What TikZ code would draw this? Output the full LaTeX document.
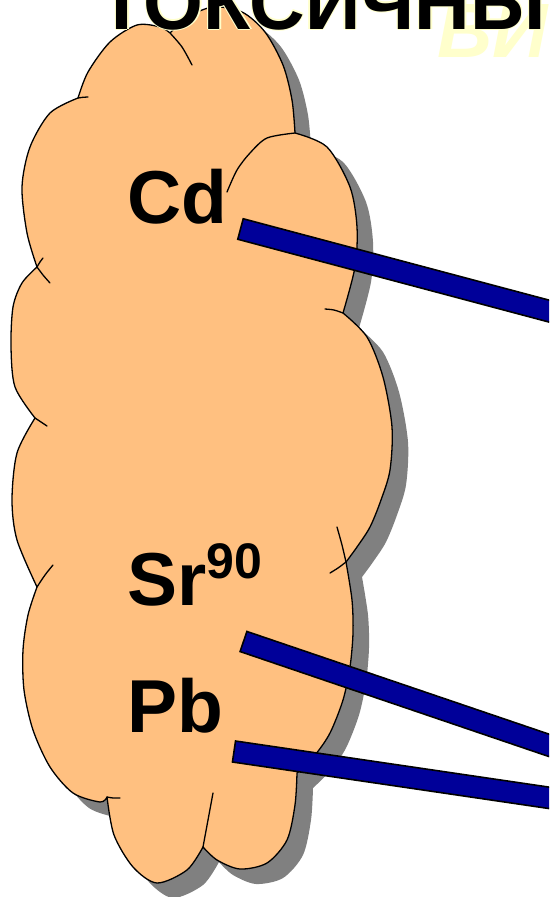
\documentclass[tikz,border=0pt]{standalone}
\usepackage{fontspec}
\setmainfont{Liberation Sans}
\usetikzlibrary{calc}
\definecolor{peach}{RGB}{255,192,128}
\definecolor{shadowgray}{RGB}{128,128,128}
\definecolor{barblue}{RGB}{0,0,153}
\definecolor{paleyel}{RGB}{255,255,204}
\def\cloudpath{plot[smooth] coordinates {(78,98) (88,72) (110,42) (137,25) (160,27) (170,33)}
 -- plot[smooth] coordinates {(170,33) (188,17) (213,7) (242,12) (265,32) (283,65) (292,100) (295,133)}
 -- plot[smooth] coordinates {(295,133) (327,147) (350,187) (357,227) (355,267) (343,313)}
 -- plot[smooth] coordinates {(343,313) (367,337) (383,377) (392,427) (390,470) (381,500) (370,527) (357,547) (346,562)}
 -- plot[smooth] coordinates {(346,562) (352,600) (353,633) (350,667) (343,700) (330,733) (315,755) (297,773)}
 -- plot[smooth] coordinates {(297,773) (295,805) (287,840) (267,863) (240,869) (217,860) (203,847)}
 -- plot[smooth] coordinates {(203,847) (187,870) (157,883) (133,867) (114,835) (107,797)}
 -- plot[smooth] coordinates {(107,797) (100,802) (73,793) (50,767) (33,730) (24,690) (23,650) (28,615) (37,587)}
 -- plot[smooth] coordinates {(37,587) (17,540) (12,500) (17,453) (35,418)}
 -- plot[smooth] coordinates {(35,418) (15,387) (11,347) (13,307) (22,283) (37,267)}
 -- plot[smooth] coordinates {(37,267) (27,233) (22,187) (30,147) (50,113) (78,98)} -- cycle}
\tikzset{
  cloudline/.style={draw=black, line width=1.3pt, line join=round, line cap=round},
  lab/.style={anchor=base west, inner sep=0pt, text=black, font=\fontsize{75}{75}\selectfont\bfseries},
  title/.style={anchor=base west, inner sep=0pt, font=\fontsize{77}{77}\selectfont\bfseries},
  bar/.style={fill=barblue, draw=black, line width=1.6pt, line join=miter}
}
\begin{document}
\begin{tikzpicture}[x=1pt,y=-1pt]
\path[use as bounding box] (0,0) rectangle (549,897);
\clip (0,0) rectangle (549,897);
\fill[white] (0,0) rectangle (549,897);
% shadow
\fill[fill=shadowgray, shift={(16,15)}] \cloudpath;
% cloud
\fill[fill=peach] \cloudpath;
\draw[cloudline] \cloudpath;
% inner strokes
\draw[cloudline] plot[smooth] coordinates {(78,98) (83,97.3) (88,97)};
\draw[cloudline] plot[smooth] coordinates {(170,33) (182,47) (192,65)};
\draw[cloudline] plot[smooth] coordinates {(295,133) (267,138) (250,153) (237,170) (227,192)};
\draw[cloudline] plot[smooth] coordinates {(343,313) (334,310) (325,309)};
\draw[cloudline] plot[smooth] coordinates {(337,527) (342,545) (346,562)};
\draw[cloudline] plot[smooth] coordinates {(346,562) (338,568) (330,573)};
\draw[cloudline] plot[smooth] coordinates {(203,847) (208,820) (213,793)};
\draw[cloudline] plot[smooth] coordinates {(107,797) (113,798) (120,798)};
\draw[cloudline] plot[smooth] coordinates {(37,587) (45,575) (53,565)};
\draw[cloudline] plot[smooth] coordinates {(35,418) (41,422) (47,426)};
\draw[cloudline] plot[smooth] coordinates {(37,267) (43,275) (50,283)};
\draw[cloudline] plot[smooth] coordinates {(37,267) (40,262) (43,258)};
% top texts
\node[title, text=paleyel, font=\fontsize{77}{77}\selectfont\bfseries\itshape] (vi) at (437,57) {ВИ};
\foreach \dx/\dy [count=\i] in {1.3/0, -1.3/0, 0/1.3, 0/-1.3, 0.9/0.9, -0.9/0.9, 0.9/-0.9, -0.9/-0.9}
  \node[title, text=paleyel] (glow\i) at (98.5+\dx, 29+\dy) {ТОКСИЧНЫ};
\node[title, text=black] (toks) at (98.5,29) {ТОКСИЧНЫ};
% labels
\node[lab] (cd) at (127,223) {Cd};
\node[lab] (sr) at (127,605) {Sr\raisebox{27pt}{\fontsize{50}{50}\selectfont 90}};
\node[lab] (pb) at (127,732) {Pb};
% bar ends
\coordinate (cdA) at (240.5,229);
\coordinate (cdB) at (640,335.3);
\coordinate (srA) at (243.5,641.5);
\coordinate (srB) at (640,776.3);
\coordinate (pbA) at (234,751.5);
\coordinate (pbB) at (640,811.2);
\foreach \a/\b in {cdA/cdB, srA/srB, pbA/pbB}
  \draw[bar] ($(\a)!10.6pt!90:(\b)$) -- ($(\b)!10.6pt!-90:(\a)$) -- ($(\b)!10.6pt!90:(\a)$) -- ($(\a)!10.6pt!-90:(\b)$) -- cycle;
\end{tikzpicture}
\end{document}
